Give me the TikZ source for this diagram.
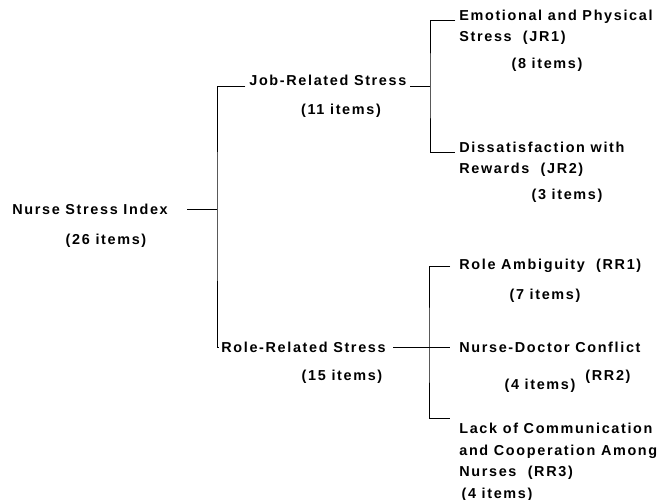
\documentclass[tikz,border=0pt]{standalone}
\usepackage{fontspec}
\setmainfont{Liberation Sans}[LetterSpace=11.5]
\begin{document}
\begin{tikzpicture}[x=0.02cm,y=-0.02cm,
  every node/.style={font=\fontsize{8.2}{12.5}\selectfont\bfseries, inner sep=0pt},
  lbl/.style={anchor=base west, align=left},
  cnt/.style={anchor=base}]
  \useasboundingbox (0,0) rectangle (657,500);
  \node[lbl] (nsi) at (12,215) {Nurse Stress Index};
  \node[cnt] (nsin) at (106,245) {(26 items)};
  \node[lbl] (jrs) at (249,86) {Job-Related Stress};
  \node[cnt] (jrsn) at (341,115) {(11 items)};
  \node[lbl] (rrs) at (221,353) {Role-Related Stress};
  \node[cnt] (rrsn) at (342,380) {(15 items)};
  \node[lbl] (jr1) at (459,42) {Emotional and Physical\\Stress\ \ (JR1)};
  \node[cnt] (jr1n) at (547,69) {(8 items)};
  \node[lbl] (jr2) at (459,174) {Dissatisfaction with\\Rewards\ \ (JR2)};
  \node[cnt] (jr2n) at (567,200) {(3 items)};
  \node[lbl] (rr1) at (459,270) {Role Ambiguity\ \ (RR1)};
  \node[cnt] (rr1n) at (545,300) {(7 items)};
  \node[lbl] (rr2) at (459,353) {Nurse-Doctor Conflict};
  \node[cnt] (rr2n) at (540,390) {(4 items)};
  \node[cnt] (rr2t) at (608,380) {(RR2)};
  \node[lbl] (rr3) at (459,477) {Lack of Communication\\and Cooperation Among\\Nurses\ \ (RR3)};
  \node[cnt] (rr3n) at (497,499) {(4 items)};
  \coordinate (trunk) at (217,216);
  \coordinate (jrfork) at (430,85);
  \coordinate (rrfork) at (429,348);
  \draw ([xshift=11pt]nsi.east) -- (nsi.east -| trunk);
  \draw ([xshift=-2pt]jrs.base west) -| (trunk) |- ([xshift=-1pt]rrs.west);
  \draw ([xshift=2pt]jrs.base east) -- (jrs.base east -| jrfork);
  \draw ([xshift=-2pt,yshift=12.5pt]jr1.base west) -| (jrfork) |- ([xshift=-2pt,yshift=12.5pt]jr2.base west);
  \draw ([xshift=4pt]rrs.east) -- ([xshift=-5pt]rr2.west);
  \draw ([xshift=-5pt]rr1.west) -| (rrfork) |- ([xshift=-5pt,yshift=2.5pt]rr3.north west);
\end{tikzpicture}
\end{document}
